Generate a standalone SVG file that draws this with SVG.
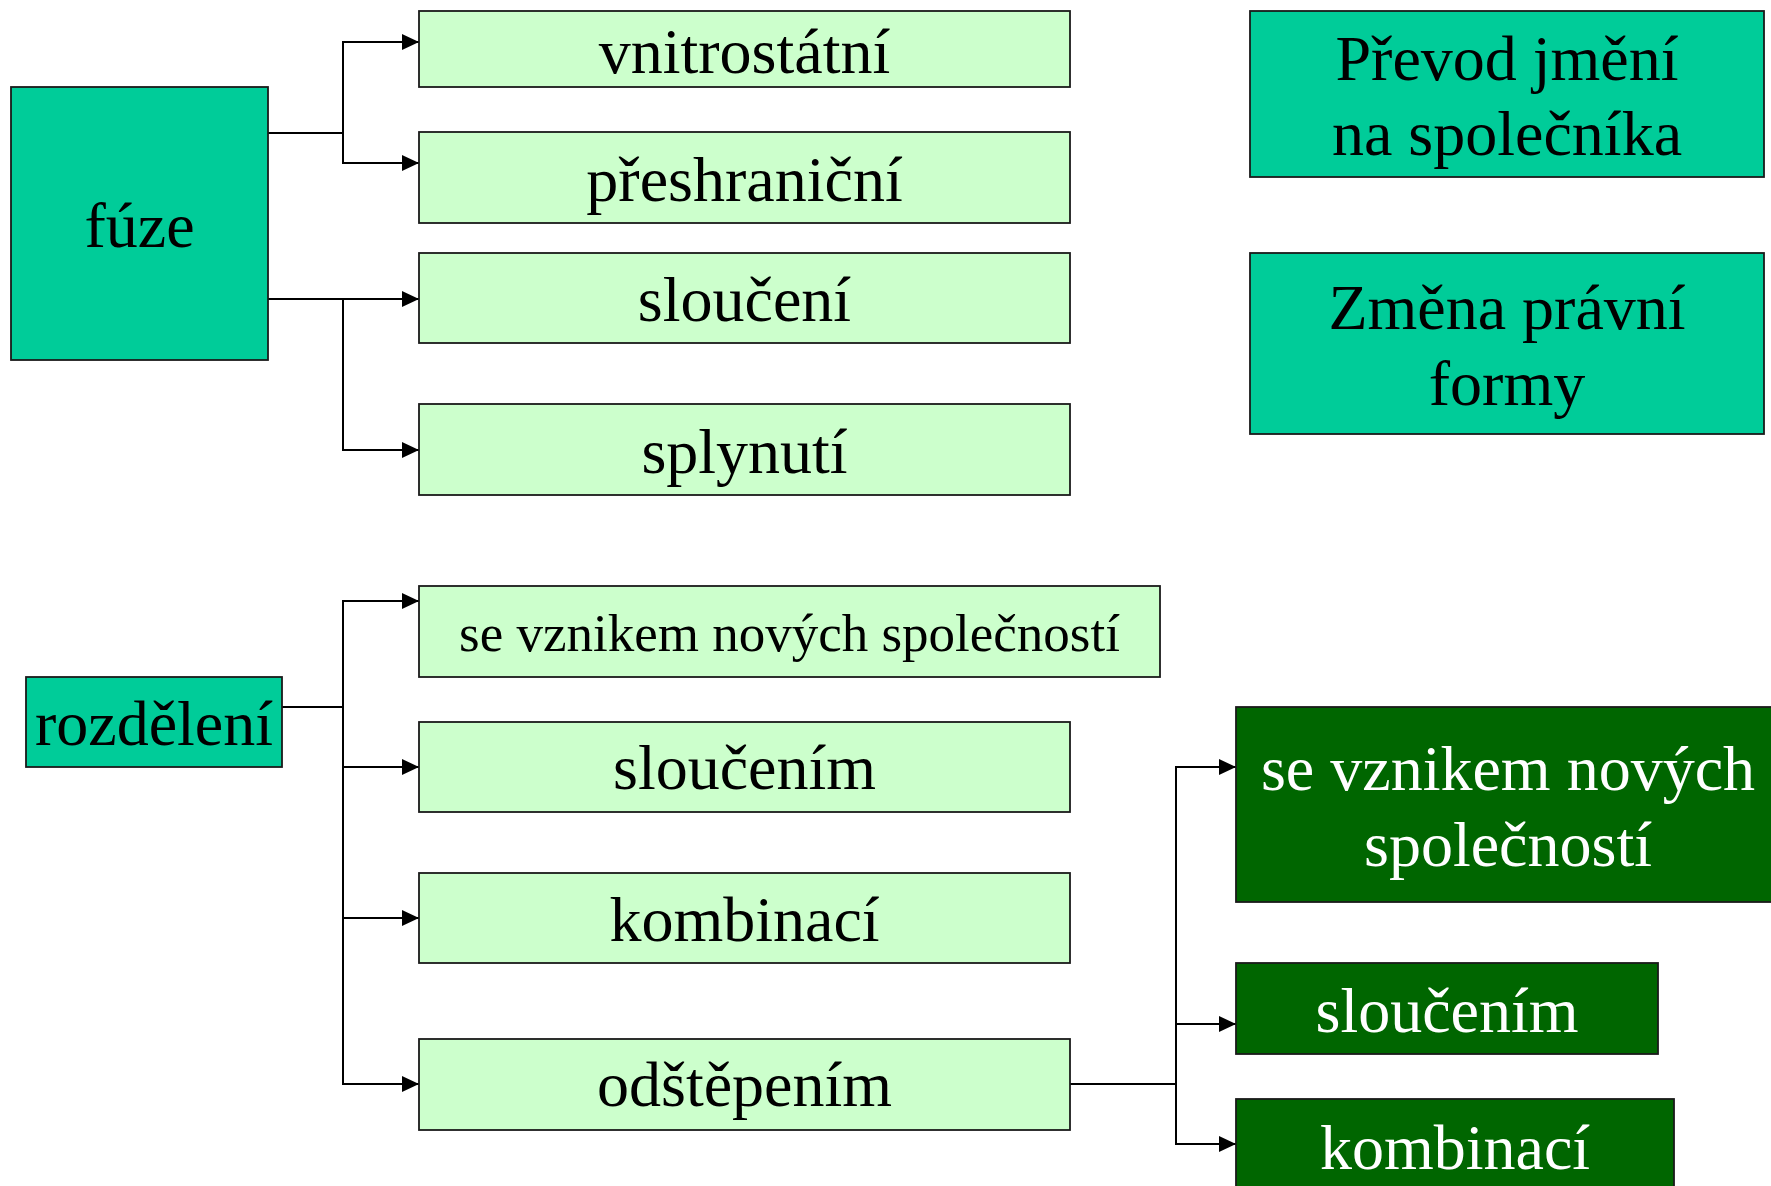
<svg xmlns="http://www.w3.org/2000/svg" width="1771" height="1186" viewBox="0 0 1771 1186">
<style>
.box{stroke:#1a1a1a;stroke-width:1.8}
.teal{fill:#00CC99}
.light{fill:#CCFFCC}
.dark{fill:#006600}
text{font-family:"Liberation Serif","Times New Roman",serif;font-size:64px;text-anchor:middle;fill:#000}
.w{fill:#fff}
.conn{fill:none;stroke:#000;stroke-width:2}
</style>
<defs>
<marker id="arr" markerUnits="userSpaceOnUse" markerWidth="18" markerHeight="16" refX="17" refY="8" orient="auto">
<path d="M0,0 L17,8 L0,16 z" fill="#000"/>
</marker>
</defs>
<rect width="1771" height="1186" fill="#fff"/>
<g id="connectors">
<path class="conn" d="M268,133 H343"/>
<path class="conn" d="M343,133 V42 H419" marker-end="url(#arr)"/>
<path class="conn" d="M343,133 V163 H419" marker-end="url(#arr)"/>
<path class="conn" d="M268,299 H419" marker-end="url(#arr)"/>
<path class="conn" d="M343,299 V450 H419" marker-end="url(#arr)"/>
<path class="conn" d="M282,707 H343"/>
<path class="conn" d="M343,707 V601 H419" marker-end="url(#arr)"/>
<path class="conn" d="M343,707 V767 H419" marker-end="url(#arr)"/>
<path class="conn" d="M343,767 V918 H419" marker-end="url(#arr)"/>
<path class="conn" d="M343,918 V1084 H419" marker-end="url(#arr)"/>
<path class="conn" d="M1070,1084 H1176"/>
<path class="conn" d="M1176,1084 V767 H1236" marker-end="url(#arr)"/>
<path class="conn" d="M1176,1024 H1236" marker-end="url(#arr)"/>
<path class="conn" d="M1176,1084 V1144 H1236" marker-end="url(#arr)"/>
</g>
<g id="fuze"><rect class="box teal" x="11" y="87" width="257" height="273"/><text x="139.5" y="247">fúze</text></g>
<g id="vnitrostatni"><rect class="box light" x="419" y="11" width="651" height="76"/><text x="744.5" y="73">vnitrostátní</text></g>
<g id="preshranicni"><rect class="box light" x="419" y="132" width="651" height="91"/><text x="744.5" y="201">přeshraniční</text></g>
<g id="slouceni"><rect class="box light" x="419" y="253" width="651" height="90"/><text x="744.5" y="321">sloučení</text></g>
<g id="splynuti"><rect class="box light" x="419" y="404" width="651" height="91"/><text x="744.5" y="473">splynutí</text></g>
<g id="prevod"><rect class="box teal" x="1250" y="11" width="514" height="166"/><text x="1507" y="80">Převod jmění</text><text x="1507" y="155">na společníka</text></g>
<g id="zmena"><rect class="box teal" x="1250" y="253" width="514" height="181"/><text x="1507" y="329">Změna právní</text><text x="1507" y="405">formy</text></g>
<g id="rozdeleni"><rect class="box teal" x="26" y="677" width="256" height="90"/><text x="154" y="745">rozdělení</text></g>
<g id="se-vznikem"><rect class="box light" x="419" y="586" width="741" height="91"/><text x="789.5" y="651" style="font-size:53px">se vznikem nových společností</text></g>
<g id="sloucenim"><rect class="box light" x="419" y="722" width="651" height="90"/><text x="744.5" y="789">sloučením</text></g>
<g id="kombinaci"><rect class="box light" x="419" y="873" width="651" height="90"/><text x="744.5" y="941">kombinací</text></g>
<g id="odstepenim"><rect class="box light" x="419" y="1039" width="651" height="91"/><text x="744.5" y="1106">odštěpením</text></g>
<g id="odst-se-vznikem"><rect class="box dark" x="1236" y="707" width="560" height="195"/><text class="w" x="1508" y="790">se vznikem nových</text><text class="w" x="1508" y="866">společností</text></g>
<g id="odst-sloucenim"><rect class="box dark" x="1236" y="963" width="422" height="91"/><text class="w" x="1447" y="1032">sloučením</text></g>
<g id="odst-kombinaci"><rect class="box dark" x="1236" y="1099" width="438" height="120"/><text class="w" x="1455" y="1169">kombinací</text></g>
</svg>
